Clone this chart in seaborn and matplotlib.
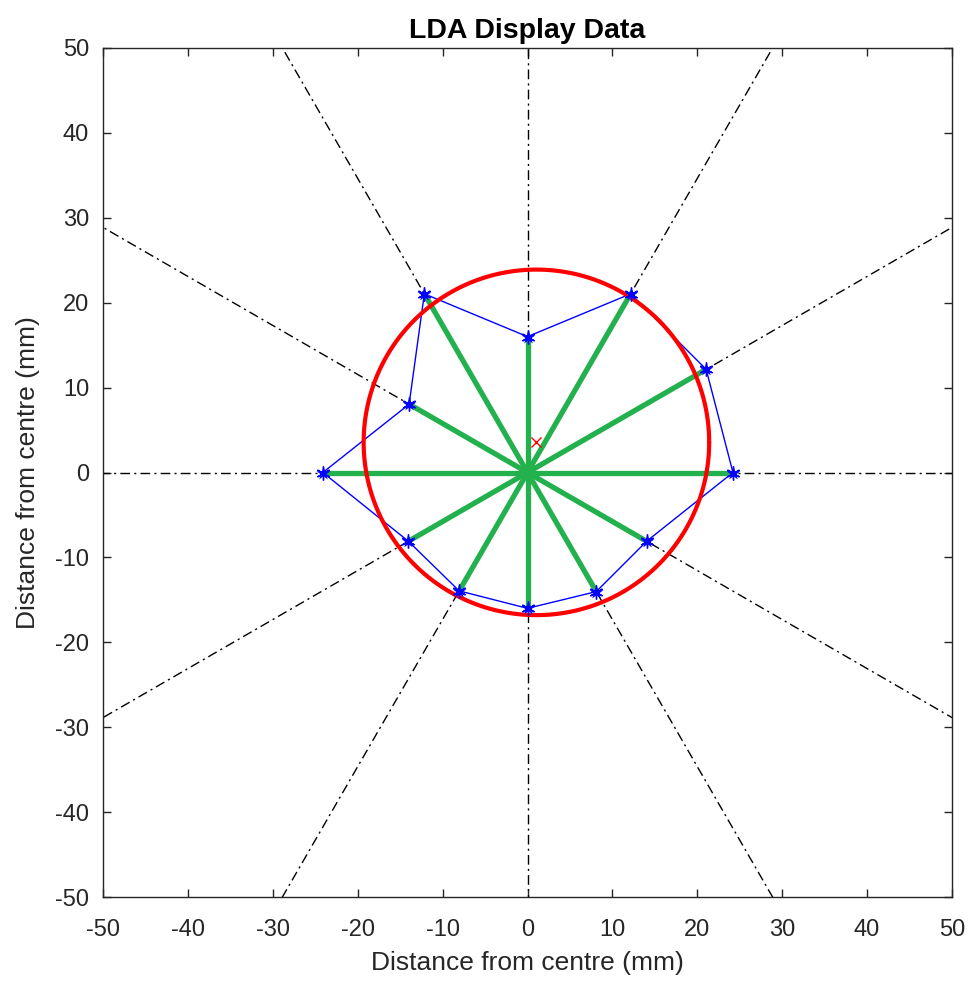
import numpy as np
import pandas as pd
import matplotlib
matplotlib.use("Agg")
import matplotlib.pyplot as plt
import seaborn as sns

# Data
angles_deg = [0, 30, 60, 90, 120, 150, 180, 210, 240, 270, 300, 330]
radii_mm = [24.2, 24.3, 24.3, 16.0, 24.3, 16.1, 24.1, 16.2, 16.1, 16.0, 16.2, 16.2]
circle_centre = [1.05, 3.55]
circle_radius = 20.35
guide_angles_deg = [0, 30, 60, 90, 120, 150]
ticks = [-50, -40, -30, -20, -10, 0, 10, 20, 30, 40, 50]

sns.set_theme(style="white")
plt.rcParams['font.family'] = ['Liberation Sans', 'DejaVu Sans']

fig = plt.figure(figsize=(9.72, 9.84), dpi=100)
ax = fig.add_axes([103/972, 1-897/984, (952-103)/972, (897-48)/984])

th = np.deg2rad(angles_deg)
r = np.array(radii_mm)
px = r*np.cos(th)
py = r*np.sin(th)

# guide dash-dot lines
for a in guide_angles_deg:
    t = np.deg2rad(a)
    L = 200
    ax.plot([-L*np.cos(t), L*np.cos(t)], [-L*np.sin(t), L*np.sin(t)],
            color='black', lw=1.0, ls='-.', dashes=(7, 3, 1.5, 3), zorder=1)

# polygon
poly = pd.DataFrame({"x": np.append(px, px[0]), "y": np.append(py, py[0])})
sns.lineplot(data=poly, x="x", y="y", sort=False, color='#0000ff', lw=1.0,
             ax=ax, estimator=None, zorder=2)

# spokes
for xi, yi in zip(px, py):
    ax.plot([0, xi], [0, yi], color='#22b14c', lw=3.8, solid_capstyle='round', zorder=3)

# markers
sns.scatterplot(x=px, y=py, marker='*', color='#0000ff', s=110, ax=ax, zorder=5,
                linewidth=0)
ax.plot(px, py, ls='none', marker=(6, 2, 0), color='#0000ff', ms=10, mew=1.0, zorder=5)

# circle
t = np.linspace(0, 2*np.pi, 400)
ax.plot(circle_centre[0] + circle_radius*np.cos(t), circle_centre[1] + circle_radius*np.sin(t),
        color='#ff0000', lw=3.0, zorder=4)
ax.plot([circle_centre[0]], [circle_centre[1]], marker='x', color='#ff0000', ms=7, mew=1.0, zorder=6)

ax.set_xlim(-50, 50)
ax.set_ylim(-50, 50)
ax.set_xticks(ticks)
ax.set_yticks(ticks)
ax.set_xticklabels([str(v) for v in ticks])
ax.set_yticklabels([str(v) for v in ticks])
ax.tick_params(direction='in', length=6, width=1, colors='#262626', labelsize=17,
               top=True, right=True, bottom=True, left=True)
ax.tick_params(axis='x', pad=16)
ax.tick_params(axis='y', pad=10)
for s in ax.spines.values():
    s.set_color('#262626')
    s.set_linewidth(1.0)
ax.set_xlabel('Distance from centre (mm)', fontsize=19, color='#262626', labelpad=7)
ax.set_ylabel('Distance from centre (mm)', fontsize=19, color='#262626', labelpad=11)
ax.set_title('LDA Display Data', fontsize=20.5, fontweight='bold', color='black', pad=7)

fig.savefig('out.png', dpi=100)
